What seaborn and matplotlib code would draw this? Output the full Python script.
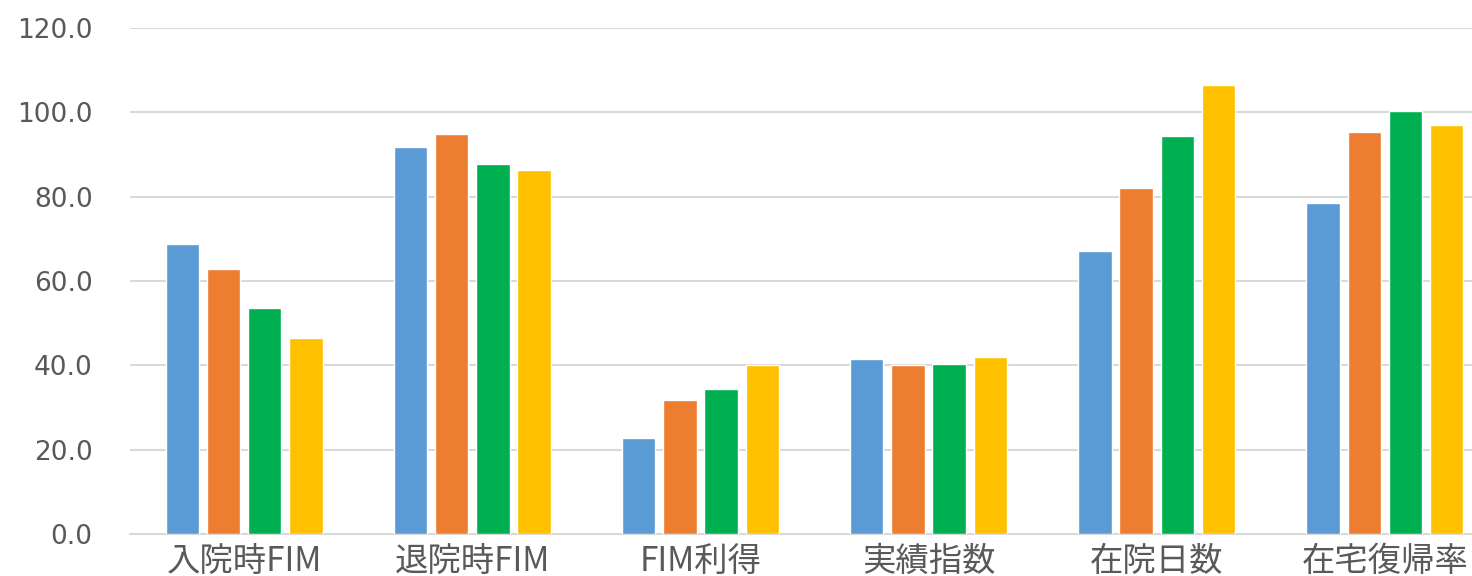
import pandas as pd
import numpy as np
import matplotlib.pyplot as plt
import seaborn as sns

categories = ['入院時FIM', '退院時FIM', 'FIM利得', '実績指数', '在院日数', '在宅復帰率']
series_names = ['系列1', '系列2', '系列3', '系列4']
series1 = [68.8, 91.8, 22.8, 41.5, 67.1, 78.4]
series2 = [62.9, 94.8, 31.8, 40.0, 82.0, 95.3]
series3 = [53.5, 87.8, 34.5, 40.3, 94.4, 100.3]
series4 = [46.5, 86.3, 40.0, 41.9, 106.5, 97.1]
colors = ['#5B9BD5', '#ED7D31', '#00B050', '#FFC000']
yticks = [0, 20, 40, 60, 80, 100, 120]

rows = []
for name, vals in zip(series_names, [series1, series2, series3, series4]):
    for cat, v in zip(categories, vals):
        rows.append({'項目': cat, '系列': name, '値': v})
df = pd.DataFrame(rows)

sns.set_style('white')
plt.rcParams['font.family'] = ['Noto Sans CJK JP', 'DejaVu Sans']

fig = plt.figure(figsize=(14.72, 5.76), dpi=100)
# plot area runs past the right edge, like the cropped original
ax = fig.add_axes([130 / 1472, 1 - 534 / 576, 1369 / 1472, 506 / 576])

sns.barplot(data=df, x='項目', y='値', hue='系列', order=categories,
            hue_order=series_names, palette=colors, width=0.722, gap=0.19,
            saturation=1, legend=False, ax=ax, zorder=3)

ax.set_xlim(-0.5, len(categories) - 0.5)
ax.set_ylim(0, 120)
ax.set_yticks(yticks)
ax.set_yticklabels([f'{t:.1f}' for t in yticks], fontsize=19, color='#595959',
                   family='DejaVu Sans')
ax.yaxis.grid(True, color='#d9d9d9', linewidth=1.5, zorder=0)
ax.set_axisbelow(True)
ax.set_xlabel('')
ax.set_ylabel('')

# category labels centred, separators between categories
ax.set_xticks(range(len(categories)))
ax.set_xticklabels(categories, fontsize=24, color='#595959')
ax.set_xticks(np.arange(-0.5, len(categories)), minor=True)
ax.tick_params(axis='x', which='major', length=0, pad=7)
ax.tick_params(axis='x', which='minor', length=40, width=1.5, color='#d9d9d9')
ax.tick_params(axis='y', length=0, pad=27)

for side in ['top', 'right', 'left']:
    ax.spines[side].set_visible(False)
ax.spines['bottom'].set_color('#d9d9d9')
ax.spines['bottom'].set_linewidth(1.5)

fig.savefig('out.png', dpi=100)
